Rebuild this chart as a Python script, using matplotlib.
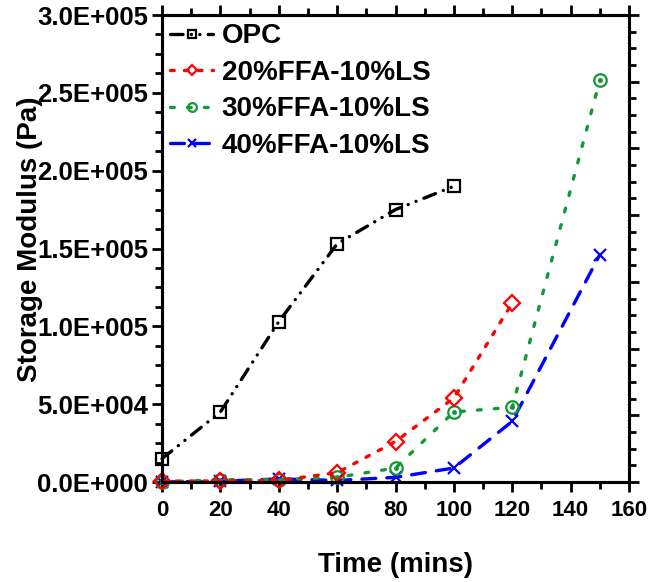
import numpy as np
import matplotlib
matplotlib.use("Agg")
import matplotlib.pyplot as plt
from matplotlib.ticker import MultipleLocator, FuncFormatter

# ── Data: storage modulus (Pa) vs time (mins) ────────────────────────────────
time_opc = [0, 20, 40, 60, 80, 100]
g_opc    = [15000, 45000, 103000, 153000, 175000, 190000]

time_mix = [0, 20, 40, 60, 80, 100, 120]
g_20ffa  = [500, 700, 1000, 6000, 26000, 54000, 115000]

time_ext = [0, 20, 40, 60, 80, 100, 120, 150]
g_30ffa  = [0, 1500, 1500, 3000, 9000, 45000, 48000, 258000]
g_40ffa  = [0, 500, 2000, 1000, 3000, 9000, 39000, 146000]

labels = ["OPC", "20%FFA-10%LS", "30%FFA-10%LS", "40%FFA-10%LS"]

plt.rcParams.update({
    "font.family": ["Liberation Sans", "DejaVu Sans"],
    "font.weight": "bold",
    "axes.linewidth": 2.2,
    "lines.scale_dashes": False,
})

fig = plt.figure(figsize=(6.52, 5.82), dpi=100)
ax = fig.add_axes([0.2485, 0.1718, 0.7162, 0.8024])

LW = 2.4
common = dict(linewidth=LW, dash_capstyle="round", clip_on=False,
              markerfacecolor="none", markeredgewidth=1.6, markersize=9)

h_blue, = ax.plot(time_ext, g_40ffa, color="#0000ff", marker="x",
                  linestyle=(0, (10, 8)), zorder=3, **common)
h_green, = ax.plot(time_ext, g_30ffa, color="#119933", marker="o",
                   linestyle=(0, (2.7, 9.5)), zorder=4, **common)
ax.plot(time_ext, g_30ffa, linestyle="none", marker="o", markersize=2.5,
        color="#119933", clip_on=False, zorder=4)
h_red, = ax.plot(time_mix, g_20ffa, color="#ff0000", marker="D",
                 linestyle=(0, (2.7, 7.3)), zorder=5,
                 **{**common, "markersize": 8})
h_opc, = ax.plot(time_opc, g_opc, color="black", marker="s",
                 linestyle=(0, (9, 6, 0.1, 6, 0.1, 6)), zorder=6, **common)

# ── Axes ─────────────────────────────────────────────────────────────────────
ax.set_xlim(0, 160)
ax.set_ylim(0, 300000)
ax.xaxis.set_major_locator(MultipleLocator(20))
ax.xaxis.set_minor_locator(MultipleLocator(10))
ax.yaxis.set_major_locator(MultipleLocator(50000))
ax.yaxis.set_minor_locator(MultipleLocator(12500))


def sci3(v, pos):
    if v == 0:
        return "0.0E+000"
    e = int(np.floor(np.log10(abs(v))))
    return f"{v / 10**e:.1f}E+{e:03d}"


ax.yaxis.set_major_formatter(FuncFormatter(sci3))
ax.tick_params(which="both", direction="out", width=2.0, top=True)
ax.tick_params(which="major", length=7)
ax.tick_params(which="minor", length=5)
ax.tick_params(axis="x", labelsize=16, pad=6)
ax.tick_params(axis="y", labelsize=18.5, pad=3)

# right-hand frame ticks
ax_r = ax.twinx()
ax_r.set_ylim(0, 7)
ax_r.yaxis.set_major_locator(MultipleLocator(1))
ax_r.yaxis.set_minor_locator(MultipleLocator(0.25))
ax_r.tick_params(which="both", direction="out", width=2.0, labelright=False)
ax_r.tick_params(which="major", length=7)
ax_r.tick_params(which="minor", length=5)

ax.set_xlabel("Time (mins)", fontsize=20, fontweight="bold", labelpad=22)
ax.set_ylabel("Storage Modulus (Pa)", fontsize=20, fontweight="bold",
              va="center")
ax.yaxis.set_label_coords(-0.283, 0.52)

ax.legend([h_opc, h_red, h_green, h_blue], labels, loc="upper left",
          frameon=False, fontsize=20, handlelength=1.55, handletextpad=0.3,
          labelspacing=0.38, borderaxespad=0.2, borderpad=0.1, markerscale=0.7)

fig.savefig("out.png", dpi=100)
